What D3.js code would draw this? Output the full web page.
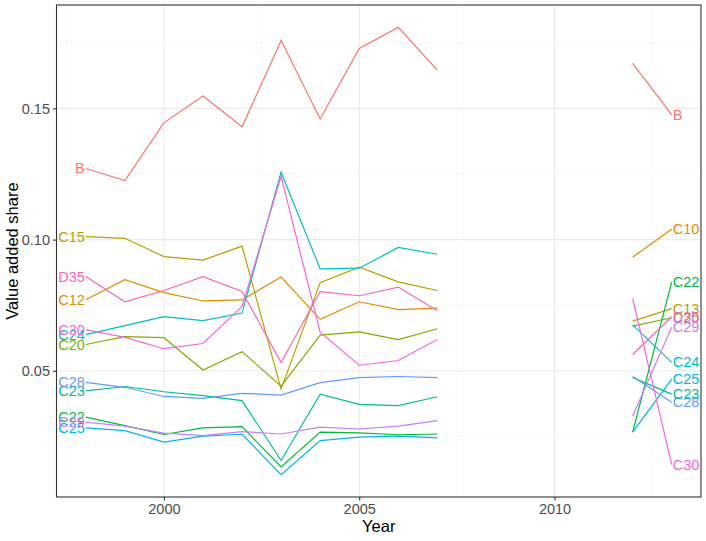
<!DOCTYPE html>
<html>
<head>
<meta charset="utf-8">
<script src="https://cdn.jsdelivr.net/npm/d3@7"></script>
<style>
  body { margin: 0; background: #fff; }
  text { font-family: "Liberation Sans", Arial, sans-serif; }
</style>
</head>
<body>
<svg id="chart" width="706" height="541"></svg>
<script>
// ---- data ----
const years = [1998,1999,2000,2001,2002,2003,2004,2005,2006,2007,2008,2009,2010,2011,2012,2013];
const seriesKeys = ["B","C10_C12","C13_C15","C20","C22","C23","C24","C25","C28","C29","C30","D35"];
const leftLabels  = ["B","C12","C15","C20","C22","C23","C24","C25","C28","C29","C30","D35"];
const rightLabels = ["B","C10","C13","C20","C22","C23","C24","C25","C28","C29","C30","D35"];
const colors = ["#F8766D","#DE8C00","#B79F00","#7CAE00","#00BA38","#00C08B","#00BFC4","#00B4F0","#619CFF","#C77CFF","#F564E3","#FF64B0"];

const B       = [0.1271,0.1225,0.1445,0.1547,0.1430,0.1759,0.1460,0.1729,0.1809,0.1646,null,null,null,null,0.1672,0.1475];
const C10_C12 = [0.0771,0.0847,0.0798,0.0766,0.0770,0.0857,0.0696,0.0763,0.0733,0.0739,null,null,null,null,0.0933,0.1039];
const C13_C15 = [0.1011,0.1005,0.0935,0.0922,0.0975,0.0430,0.0836,0.0895,0.0839,0.0806,null,null,null,null,0.0689,0.0737];
const C20     = [0.0600,0.0630,0.0626,0.0503,0.0573,0.0441,0.0636,0.0648,0.0619,0.0660,null,null,null,null,0.0670,0.0702];
const C22     = [0.0323,0.0291,0.0257,0.0282,0.0287,0.0133,0.0266,0.0263,0.0256,0.0259,null,null,null,null,0.0266,0.0838];
const C23     = [0.0423,0.0440,0.0420,0.0405,0.0386,0.0158,0.0411,0.0372,0.0367,0.0401,null,null,null,null,0.0474,0.0411];
const C24     = [0.0638,0.0672,0.0706,0.0691,0.0720,0.1257,0.0888,0.0891,0.0970,0.0944,null,null,null,null,0.0675,0.0532];
const C25     = [0.0282,0.0272,0.0228,0.0251,0.0258,0.0104,0.0234,0.0247,0.0251,0.0244,null,null,null,null,0.0266,0.0468];
const C28     = [0.0456,0.0437,0.0402,0.0395,0.0414,0.0407,0.0455,0.0474,0.0478,0.0474,null,null,null,null,0.0478,0.0380];
const C29     = [0.0304,0.0289,0.0262,0.0253,0.0268,0.0259,0.0285,0.0278,0.0289,0.0310,null,null,null,null,0.0327,0.0666];
const C30     = [0.0657,0.0627,0.0584,0.0604,0.0745,0.1241,0.0647,0.0521,0.0539,0.0619,null,null,null,null,0.0776,0.0142];
const D35     = [0.0859,0.0763,0.0806,0.0859,0.0802,0.0531,0.0802,0.0786,0.0819,0.0729,null,null,null,null,0.0562,0.0706];

const seriesValues = [B,C10_C12,C13_C15,C20,C22,C23,C24,C25,C28,C29,C30,D35];
const xTicks = [2000, 2005, 2010];
const yTicks = [0.05, 0.10, 0.15];
const yMinor = [0.025, 0.075, 0.125, 0.175];
const xMinor = [1997.5, 2002.5, 2007.5, 2012.5];

// ---- layout ----
const svg = d3.select("#chart");
const panel = {left: 56.5, right: 701, top: 5, bottom: 497};

const series = seriesKeys.map((k, i) => ({
  key: k, left: leftLabels[i], right: rightLabels[i], color: colors[i],
  points: years.map((y, j) => ({year: y, value: seriesValues[i][j]}))
}));
const defined = series.flatMap(s => s.points.filter(p => p.value != null));

const xExt = d3.extent(defined, d => d.year);
const xPad = (xExt[1] - xExt[0]) * 0.05;
const x = d3.scaleLinear().domain([xExt[0] - xPad, xExt[1] + xPad]).range([panel.left, panel.right]);

const yExt = d3.extent(defined, d => d.value);
const yPad = (yExt[1] - yExt[0]) * 0.05;
const y = d3.scaleLinear().domain([yExt[0] - yPad, yExt[1] + yPad]).range([panel.bottom, panel.top]);

// grid
const grid = svg.append("g");
grid.selectAll(".ymin").data(yMinor.filter(v => y(v) > panel.top && y(v) < panel.bottom)).join("line")
  .attr("x1", panel.left).attr("x2", panel.right).attr("y1", d => y(d)).attr("y2", d => y(d))
  .attr("stroke", "#F2F2F2").attr("stroke-width", 0.55);
grid.selectAll(".xmin").data(xMinor).join("line")
  .attr("y1", panel.top).attr("y2", panel.bottom).attr("x1", d => x(d)).attr("x2", d => x(d))
  .attr("stroke", "#F2F2F2").attr("stroke-width", 0.55);
grid.selectAll(".ymaj").data(yTicks).join("line")
  .attr("x1", panel.left).attr("x2", panel.right).attr("y1", d => y(d)).attr("y2", d => y(d))
  .attr("stroke", "#EBEBEB").attr("stroke-width", 1.1);
grid.selectAll(".xmaj").data(xTicks).join("line")
  .attr("y1", panel.top).attr("y2", panel.bottom).attr("x1", d => x(d)).attr("x2", d => x(d))
  .attr("stroke", "#EBEBEB").attr("stroke-width", 1.1);

// lines
const line = d3.line().defined(d => d.value != null).x(d => x(d.year)).y(d => y(d.value));
svg.append("g").selectAll("path").data(series).join("path")
  .attr("d", s => line(s.points))
  .attr("fill", "none").attr("stroke", s => s.color).attr("stroke-width", 1.2);

// labels
const lab = svg.append("g").attr("font-size", 14.5);
series.forEach(s => {
  const pts = s.points.filter(p => p.value != null);
  const first = pts[0], last = pts[pts.length - 1];
  lab.append("text").attr("x", x(first.year) - 1).attr("y", y(first.value))
    .attr("text-anchor", "end").attr("dominant-baseline", "central")
    .attr("fill", s.color).text(s.left);
  lab.append("text").attr("x", x(last.year) + 1).attr("y", y(last.value))
    .attr("text-anchor", "start").attr("dominant-baseline", "central")
    .attr("fill", s.color).text(s.right);
});

// panel border
svg.append("rect").attr("x", panel.left).attr("y", panel.top)
  .attr("width", panel.right - panel.left).attr("height", panel.bottom - panel.top)
  .attr("fill", "none").attr("stroke", "#333333").attr("stroke-width", 1.1);

// axes
const xAxis = d3.axisBottom(x).tickValues(xTicks).tickFormat(d3.format("d")).tickSize(3.5).tickPadding(3);
const gx = svg.append("g").attr("transform", `translate(0,${panel.bottom})`).call(xAxis);
const yAxis = d3.axisLeft(y).tickValues(yTicks).tickFormat(d3.format(".2f")).tickSize(3.5).tickPadding(3);
const gy = svg.append("g").attr("transform", `translate(${panel.left},0)`).call(yAxis);
[gx, gy].forEach(g => {
  g.select(".domain").remove();
  g.selectAll(".tick line").attr("stroke", "#333333").attr("stroke-width", 1.1);
  g.selectAll(".tick text").attr("fill", "#4D4D4D").attr("font-size", 14.5)
    .attr("font-family", "'Liberation Sans', Arial, sans-serif");
});

// titles
svg.append("text").attr("x", (panel.left + panel.right) / 2).attr("y", 532)
  .attr("text-anchor", "middle").attr("font-size", 16.5).attr("fill", "#000").text("Year");
svg.append("text").attr("transform", `translate(18,${(panel.top + panel.bottom) / 2}) rotate(-90)`)
  .attr("text-anchor", "middle").attr("font-size", 16.5).attr("fill", "#000").text("Value added share");
</script>
</body>
</html>
